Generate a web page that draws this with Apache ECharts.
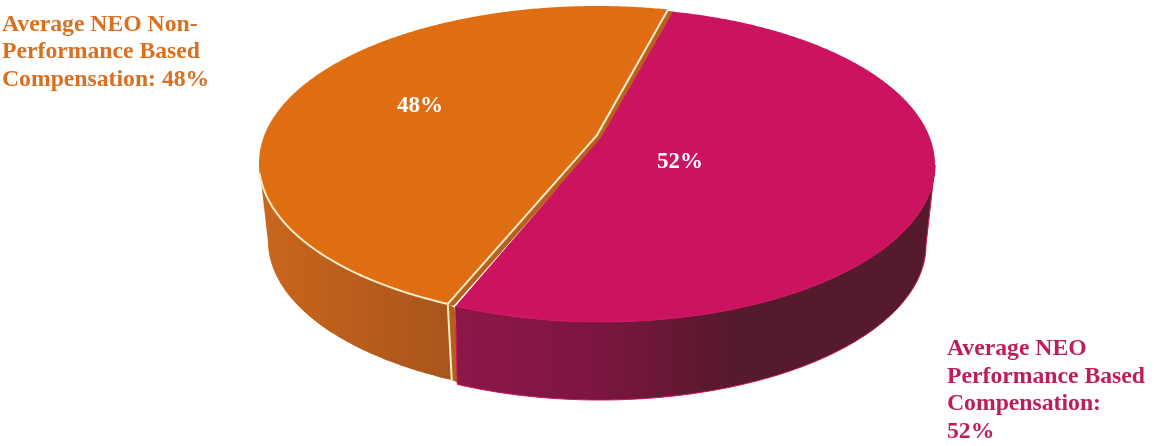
<!DOCTYPE html>
<html><head><meta charset="utf-8">
<style>html,body{margin:0;padding:0;background:#fff}#c{width:1154px;height:446px}</style>
<script src="https://cdn.jsdelivr.net/npm/echarts@6/dist/echarts.min.js"></script>
</head><body><div id="c"></div>
<script>
// data (drawn in this order; magenta sits in front of orange's cut face)
const sliceNames = ['Average NEO Non-Performance Based Compensation', 'Average NEO Performance Based Compensation'];
const sliceValues = [48, 52];
const sliceLabels = ['48%', '52%'];
const outerLabels = ['Average NEO Non-\nPerformance Based\nCompensation: 48%', 'Average NEO\nPerformance Based\nCompensation:\n52%'];

// styling and projection
const startAngle = 202;            // clockwise from the back of the pie
const tilt = 0.178;                // perspective: shifts the pie centre towards the back
const geo = [
  {top:{cx:597,cy:163,rx:338,ry:157}, bot:{cx:597,cy:241,rx:329,ry:155}},
  {top:{cx:601.5,cy:165,rx:333.5,ry:157}, bot:{cx:600,cy:245,rx:326,ry:155}}
];
const topColors = ['#DF6E13', '#CB1360'];
const wallColors = [
  {type:'linear',global:true,x:262,y:0,x2:450,y2:0,colorStops:[{offset:0,color:'#C9661C'},{offset:1,color:'#A8551B'}]},
  {type:'linear',global:true,x:455,y:0,x2:925,y2:0,colorStops:[{offset:0,color:'#8E1747'},{offset:0.3,color:'#7C1540'},{offset:0.58,color:'#561A2D'},{offset:1,color:'#561A2D'}]}
];
const textColors = ['#D96F20', '#BE1D5C'];
const labelPos = [[420,106],[680,162]];
const outerPos = [[2,11],[947,335.5]];
const cream = '#FBEBCB';
const serif = '"Liberation Serif","Times New Roman",serif';

function project(deg, e){
  const a = deg*Math.PI/180, u = Math.sin(a), v = -Math.cos(a);
  const d = 1 - tilt*v;
  const U = u*Math.sqrt(1-tilt*tilt)/d, V = (v-tilt)/d;
  return {x:e.cx+e.rx*U, y:e.cy+e.ry*V, front:V>=0};
}
const total = sliceValues.reduce((a,b)=>a+b,0);

function renderItem(params, api){
  const i = params.dataIndex, g = geo[i];
  let from = startAngle;
  for(let k=0;k<i;k++) from += sliceValues[k]/total*360;
  const to = from + api.value(0)/total*360;
  const topArc=[], wallTop=[], wallBot=[];
  for(let d=from; d<=to+1e-6; d+=0.5){
    const p=project(d,g.top), q=project(d,g.bot);
    topArc.push([p.x,p.y]);
    if(p.front){wallTop.push([p.x,p.y]); wallBot.push([q.x,q.y]);}
  }
  const centre=[g.top.cx, g.top.cy-tilt*g.top.ry];
  const children=[];
  const wallPts=wallTop.concat(wallBot.slice().reverse());
  if(i===0){
    const last=topArc[0], lb=wallBot[0];
    children.push({type:'polygon',shape:{points:[last,lb,[lb[0]+7,lb[1]+3],[last[0]+7,last[1]+4]]},style:{fill:'#B4601C'}});
    children.push({type:'polygon',shape:{points:[centre].concat(topArc).map(p=>[p[0]+6,p[1]+2])},style:{fill:'#B8611F'}});
  }
  children.push({type:'polygon',shape:{points:wallPts},style:{fill:wallColors[i],stroke:i===1?topColors[1]:null,lineWidth:i===1?1:0}});
  children.push({type:'polygon',shape:{points:[centre].concat(topArc)},style:{fill:topColors[i]}});
  if(i===0){
    const frontArc=topArc.filter((p,n)=>n<Math.floor(wallTop.length*0.94));
    children.push({type:'polyline',shape:{points:frontArc},style:{stroke:cream,lineWidth:2,fill:null}});
    children.push({type:'polyline',shape:{points:[wallBot[0],topArc[0],centre,topArc[topArc.length-1]]},style:{stroke:cream,lineWidth:2,fill:null}});
  }
  children.push({type:'text',x:labelPos[i][0],y:labelPos[i][1],style:{text:sliceLabels[i],fill:'#fff',font:'bold 23px '+serif,align:'center',verticalAlign:'middle'}});
  children.push({type:'text',x:outerPos[i][0],y:outerPos[i][1],style:{text:outerLabels[i],fill:textColors[i],font:'bold 23.7px '+serif,lineHeight:27.5,align:'left',verticalAlign:'top'}});
  return {type:'group',children};
}

const chart = echarts.init(document.getElementById('c'),null,{renderer:'canvas'});
chart.setOption({
  animation:false,
  backgroundColor:'#fff',
  series:[{
    type:'custom',
    coordinateSystem:'none',
    renderItem,
    silent:true,
    clip:false,
    data:sliceValues.map((v,i)=>({name:sliceNames[i],value:[v]}))
  }]
});
</script></body></html>
